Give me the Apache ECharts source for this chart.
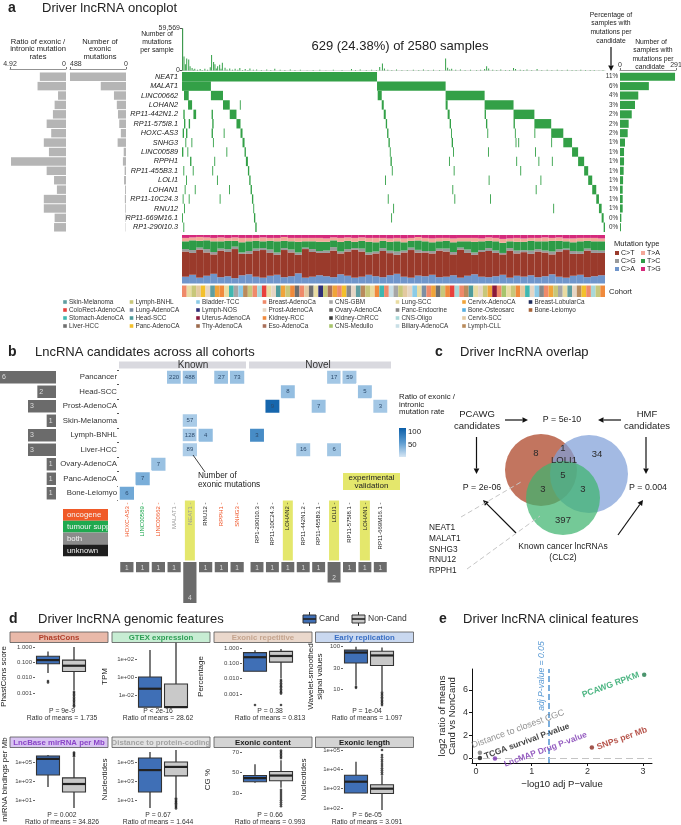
<!DOCTYPE html>
<html>
<head>
<meta charset="UTF-8" />
<title>Driver lncRNA figure</title>
<script src="https://cdn.jsdelivr.net/npm/echarts@6/dist/echarts.min.js"></script>
<style>body{margin:0;background:#fff;}</style>
</head>
<body>
<div id="chart" style="width:681px;height:825px;"></div>
<script>
// ---------- panel a : oncoplot ----------
var genes = ["NEAT1","MALAT1","LINC00662","LOHAN2","RP11-442N1.2","RP11-575I8.1","HOXC-AS3","SNHG3","LINC00589","RPPH1","RP11-455B3.1","LOLI1","LOHAN1","RP11-10C24.3","RNU12","RP11-669M16.1","RP1-290I10.3"];
var exonIntronRatio = [2.3,2.5,0.7,1.0,1.15,1.7,1.3,1.95,1.5,4.83,1.7,1.05,0.8,1.95,1.95,1.0,1.05];
var exonicMutations = [488,220,105,80,70,59,45,73,20,27,12,17,8,10,6,4,3];
var samplesMutated = [286,150,95,78,61,45,40,26,21,21,19,16,14,14,14,7,5];
var samplesPct = ["11%","6%","4%","3%","2%","2%","2%","1%","1%","1%","1%","1%","1%","1%","1%","0%","0%"];

// [gene row, first sample, last sample] in oncoplot sample order (629 samples)
var oncoSegments = [
  [0,0,290],
  [1,0,43],[1,290,392],
  [2,3,10],[2,43,61],[2,392,450],
  [3,9,15],[3,61,71],[3,450,493],
  [4,2,4],[4,17,21],[4,71,81],[4,493,524],
  [5,3,5],[5,10,12],[5,81,87],[5,524,549],
  [6,1,3],[6,6,8],[6,87,90],[6,549,567],
  [7,5,6],[7,14,15],[7,90,93],[7,567,580],
  [8,0,2],[8,8,9],[8,93,95],[8,580,589],
  [9,12,14],[9,95,98],[9,589,598],
  [10,2,3],[10,16,17],[10,98,100],[10,598,604],
  [11,6,7],[11,100,102],[11,604,610],
  [12,4,5],[12,19,20],[12,102,104],[12,610,616],
  [13,1,2],[13,10,11],[13,104,106],[13,616,620],
  [14,3,4],[14,106,107],[14,620,624],
  [15,0,1],[15,107,109],[15,624,627],
  [16,2,3],[16,109,111],[16,627,629],
  [4,44,46],[5,45,47],[6,44,46],[7,46,47],[9,48,49],[10,45,46],[11,52,53],[13,56,57],[6,62,63],[8,66,67],[12,70,71],[3,86,87],
  [2,291,297],[3,297,300],[4,300,303],[5,303,305],[6,305,307],[7,307,309],[8,309,310],[9,310,312],[10,312,313],[14,314,315],
  [11,302,303],[13,306,307],[15,311,312],
  [3,392,395],[4,395,398],[5,398,400],[6,400,401],[7,401,403],[8,403,404],[10,404,405],[13,405,406],[9,397,398],[12,402,403],
  [4,450,452],[5,452,454],[6,454,455],[8,455,456],[11,456,457],[13,458,459],
  [5,493,495],[6,495,496],[7,496,497],[9,497,498],[7,500,501],[10,503,504],
  [6,524,525],[8,525,526],[12,526,527],[9,530,531],[11,533,534],
  [7,549,550],[9,550,551],[14,552,553]
];

// [sample, number of mutations]
var mutationsPerSample = [
  [1,59569],[3,19800],[5,9000],[7,17000],[10,15600],[12,6000],[15,3500],[17,1200],[19,2500],[23,900],[27,2000],[30,800],
  [34,2500],[38,1100],[42,4500],[44,22000],[47,12000],[49,9000],[51,3000],[53,6000],[56,8000],[58,2500],[60,11000],[64,4000],
  [67,1500],[71,3000],[75,900],[79,2500],[83,1200],[86,3500],[90,800],[94,2000],[98,700],[101,3000],[106,900],[111,1500],
  [118,700],[126,1500],[132,600],[138,2500],[146,1200],[153,600],[161,1500],[168,700],[176,1000],[186,500],[195,800],
  [205,1200],[214,500],[225,1000],[238,600],[252,2000],[258,700],[265,1500],[274,600],[282,1000],[289,700],[294,5000],
  [298,10000],[301,3000],[306,900],[312,700],[319,1500],[327,600],[335,800],[344,1000],[352,600],[359,1500],[366,700],
  [374,1000],[383,600],[392,17000],[395,4000],[398,1500],[401,2500],[407,900],[414,1500],[421,700],[429,1000],[438,600],
  [444,900],[450,2000],[453,6000],[456,3000],[462,900],[468,700],[474,1500],[481,800],[487,600],[493,3500],[496,2000],
  [503,900],[508,700],[513,1500],[520,800],[528,2000],[535,700],[543,1200],[550,600],[558,1000],[565,700],[573,1200],
  [580,600],[586,800],[593,1000],[600,600],[607,700],[613,800],[620,500],[626,600]
];

var mutTypes = ["C>T","C>G","C>A","T>A","T>C","T>G"];
var spectrumCA = [14,18,12,16,20,13,15,11,17,19,14,12,16,18,13,15,21,12,14,17,15,13,19,16,12,14,18,15,13,17,20,14,12,16,15,18,13,14,17,12,16,19,14,13,15,18,12,16,14,17,13,15,19,14,12,16,18,13,15,17];
var spectrumCT = [52,45,58,48,40,55,50,60,44,42,53,57,47,41,56,49,38,59,51,46,48,55,43,50,58,52,41,47,54,45,39,50,57,46,49,44,55,52,43,58,47,40,51,54,48,42,56,46,50,44,53,49,41,52,57,45,43,55,48,46];
var spectrumCG = [5,6,4,7,5,4,6,5,3,6,5,4,7,5,4,6,5,3,6,4,5,7,4,5,3,6,5,4,6,5,7,4,5,6,3,5,4,6,5,4,7,5,4,6,5,3,5,6,4,7,5,4,6,5,3,6,5,4,6,5];
var spectrumTC = [16,20,14,18,22,15,17,12,21,20,16,14,18,23,15,17,22,13,16,19,18,14,20,17,13,16,22,19,15,18,21,17,14,19,20,18,15,16,20,13,17,22,18,15,19,21,14,18,17,20,16,19,22,17,15,18,21,16,18,19];
var spectrumTA = [7,6,8,6,7,8,6,7,9,7,6,8,6,7,8,7,8,7,7,8,7,6,8,7,8,7,8,9,6,7,7,8,6,7,7,8,7,6,8,7,7,8,6,7,7,8,6,8,7,6,7,8,6,7,6,8,7,6,7,6];
var spectrumTG = [6,5,4,5,6,5,6,5,6,6,6,5,6,6,4,6,6,6,6,6,7,5,6,5,6,5,6,6,6,7,6,7,6,4,6,7,6,6,7,6,6,6,7,5,6,8,7,6,7,6,6,5,6,5,7,7,6,6,6,7];

var cohortNames = ["Skin-Melanoma","ColoRect-AdenoCA","Stomach-AdenoCA","Liver-HCC","Lymph-BNHL","Lung-AdenoCA","Head-SCC","Panc-AdenoCA","Bladder-TCC","Lymph-NOS","Uterus-AdenoCA","Thy-AdenoCA","Breast-AdenoCa","Prost-AdenoCA","Kidney-RCC","Eso-AdenoCa","CNS-GBM","Ovary-AdenoCA","Kidney-ChRCC","CNS-Medullo","Lung-SCC","Panc-Endocrine","CNS-Oligo","Biliary-AdenoCA","Cervix-AdenoCA","Bone-Osteosarc","Cervix-SCC","Lymph-CLL","Breast-LobularCa","Bone-Leiomyo"];
var cohortStrip = [12,20,4,26,7,13,0,24,14,20,2,16,8,27,4,12,22,1,20,13,6,24,4,14,17,12,26,3,20,9,4,15,24,12,7,21,13,0,27,4,20,14,2,12,23,16,4,26,13,8,20,5,12,24,17,4,14,1,22,12,27,6,20,13,4,24,10,12,19,20,4,14,26,2,13,8,21,12,24,4,16,20,0,13,27,7,12,22,4,14];

// ---------- panel b ----------
var bCohorts = ["Pancancer","Head-SCC","Prost-AdenoCA","Skin-Melanoma","Lymph-BNHL","Liver-HCC","Ovary-AdenoCA","Panc-AdenoCA","Bone-Leiomyo"];
var knownGenes = ["HOXC-AS3","LINC00589","LINC00662","MALAT1","NEAT1","RNU12","RPPH1","SNHG3"];
var knownRoles = ["oncogene","tumour supp","oncogene","both","both","unknown","oncogene","oncogene"];
var novelGenes = ["RP1-290I10.3","RP11-10C24.3","LOHAN2","RP11-442N1.2","RP11-455B3.1","LOLI1","RP11-575I8.1","LOHAN1","RP11-669M16.1"];
var validatedGenes = ["NEAT1","LOHAN2","LOLI1","LOHAN1"];
// [gene, cohort, exonic mutations, exonic/intronic ratio]
var candidateCells = [
  ["MALAT1","Pancancer",220,28],["NEAT1","Pancancer",488,28],["RPPH1","Pancancer",27,30],["SNHG3","Pancancer",73,30],
  ["LOLI1","Pancancer",17,25],["RP11-575I8.1","Pancancer",59,25],
  ["LOHAN2","Head-SCC",8,32],["LOHAN1","Head-SCC",5,30],
  ["RP11-10C24.3","Prost-AdenoCA",9,112],["RP11-455B3.1","Prost-AdenoCA",7,30],["RP11-669M16.1","Prost-AdenoCA",3,25],
  ["NEAT1","Skin-Melanoma",57,22],
  ["NEAT1","Lymph-BNHL",128,24],["RNU12","Lymph-BNHL",4,34],["RP1-290I10.3","Lymph-BNHL",3,75],
  ["NEAT1","Liver-HCC",89,20],["RP11-442N1.2","Liver-HCC",16,25],["LOLI1","Liver-HCC",6,26],
  ["LINC00662","Ovary-AdenoCA",7,30],
  ["LINC00589","Panc-AdenoCA",7,45],
  ["HOXC-AS3","Bone-Leiomyo",6,50]
];
var cohortCandidates = [6,2,3,1,3,3,1,1,1];
var knownCohortCounts = [1,1,1,1,4,1,1,1];
var novelCohortCounts = [1,1,1,1,1,2,1,1,1];

// ---------- panel c ----------
var vennCounts = [8,1,34,5,3,3,397]; // PCAWG only, PCAWG&HMF, HMF only, all, PCAWG&CLC2, HMF&CLC2, CLC2 only
var vennShared = ["NEAT1","MALAT1","SNHG3","RNU12","RPPH1"];

// ---------- panel d ----------
var featureNames = ["PhastCons","GTEX expression","Exonic repetitive","Early replication","LncBase mirRNA per Mb","Distance to protein-coding","Exonic content","Exonic length"];
var featureP = ["P = 9e-9","P < 2e-16","P = 0.38","P = 1e-04","P = 0.002","P = 0.67","P = 0.66","P = 6e-05"];
var featureRatio = ["1.735","28.62","0.813","1.097","34.826","1.644","0.993","3.091"];
var featureCandBox = [
  [0.02,0.08,0.14,0.25,0.5],[0.00045,0.00045,0.05,1.0,1000],[0.03,0.03,0.25,0.5,0.7],[12,40,70,80,95],
  [234,4300,210000,430000,550000],[1.4,70,14000,260000,1100000],[40,41,44.5,47,58],[600,600,2300,5000,25000]
];
var featureNonBox = [
  [0.0015,0.025,0.06,0.14,1.0],[0.00042,0.00042,0.00045,0.17,10000],[0.01,0.12,0.3,0.6,0.85],[9,35,60,75,92],
  [1.4,70,480,2100,300000],[20,3400,30000,100000,1800000],[35,42,47,51,62],[80,560,1000,1600,4500]
];
var featureCandOut = [[0.006,0.0048],[],[0.00019],[11.2,10.6],[],[],[],[]];
var featureNonOut = [
  [0.0012,0.001,0.0008,0.00065,0.0005,0.0004,0.00032,0.00026,0.0002,0.00016,0.00013],
  [],
  [0.008,0.0065,0.005,0.004,0.0032,0.0026,0.002,0.0016,0.0013,0.00105,0.00019],
  [8.3,7.6,7,6.4,5.9,5.4,5,4.6,4.2],
  [400000,550000,750000,1000000],
  [15,11,8,6,4.5,3.3,2.5,1.8,1.3],
  [64,65.5,67,68.5,70,71.5,33,31,29,27,25,23,21,19,17],
  [5500,7000,9000,11500,15000,19000,25000,32000,42000,55000,100000]
];

// ---------- panel e ----------
var clinicalNames = ["PCAWG RPKM","SNPs per Mb","LncMAP Drug P-value","TCGA survival P-value","Distance to closest CGC"];
var clinicalNegLogP = [3.02,2.08,0.34,0.07,0.07];
var clinicalLog2Ratio = [7.35,0.92,-0.05,0.0,0.47];

// ================= build =================
var FONT = "'Liberation Sans', Arial, Helvetica, sans-serif";
var GREEN = "#33a047";
var grids = [], xAxes = [], yAxes = [], series = [], gfx = [];

function addGrid(l, t, w, h) {
  grids.push({left: l, top: t, width: w, height: h, containLabel: false, outerBoundsMode: "none"});
  return grids.length - 1;
}
function txt(x, y, s, o) {
  o = o || {};
  gfx.push({type: "text", x: x, y: y, rotation: o.rot || 0, z: 20, silent: true,
    style: {text: s, fontSize: o.size || 8, fontFamily: FONT, fill: o.color || "#222",
      align: o.align || "center", textAlign: o.align || "center", verticalAlign: "middle", textVerticalAlign: "middle",
      fontWeight: o.weight || "normal", fontStyle: o.italic ? "italic" : "normal", lineHeight: o.lh || undefined}});
}
function box(x, y, w, h, fill, o) {
  o = o || {};
  gfx.push({type: "rect", shape: {x: x, y: y, width: w, height: h}, z: o.z || 5, silent: true,
    style: {fill: fill, stroke: o.stroke || null, lineWidth: o.lw || 0, opacity: o.op == null ? 1 : o.op}});
}
function seg(x1, y1, x2, y2, o) {
  o = o || {};
  gfx.push({type: "line", shape: {x1: x1, y1: y1, x2: x2, y2: y2}, z: o.z || 15, silent: true,
    style: {stroke: o.color || "#111", lineWidth: o.lw || 1, lineDash: o.dash || null}});
}
function arrow(x1, y1, x2, y2) {
  var a = Math.atan2(y2 - y1, x2 - x1), L = 5.5, W = 2.8;
  var bx = x2 - L * Math.cos(a), by = y2 - L * Math.sin(a);
  seg(x1, y1, bx, by, {lw: 1.2});
  gfx.push({type: "polygon", z: 15, silent: true,
    shape: {points: [[x2, y2], [bx - W * Math.sin(a), by + W * Math.cos(a)], [bx + W * Math.sin(a), by - W * Math.cos(a)]]},
    style: {fill: "#111"}});
}
function hidden(gi, extra) {
  var ax = {gridIndex: gi, show: false};
  for (var k in extra) ax[k] = extra[k];
  return ax;
}

// ----- panel a titles -----
txt(8, 8, "a", {size: 14, weight: "bold", align: "left"});
txt(42, 8, "Driver lncRNA oncoplot", {size: 13, align: "left"});

txt(38, 41.5, "Ratio of exonic /", {size: 7.6});
txt(38, 49, "intronic mutation", {size: 7.6});
txt(38, 56.5, "rates", {size: 7.6});
txt(100, 41.5, "Number of", {size: 7.6});
txt(100, 49, "exonic", {size: 7.6});
txt(100, 56.5, "mutations", {size: 7.6});
txt(157, 34, "Number of", {size: 6.8});
txt(157, 42, "mutations", {size: 6.8});
txt(157, 50, "per sample", {size: 6.8});
txt(400, 46.5, "629 (24.38%) of 2580 samples", {size: 13});
txt(611, 15, "Percentage of", {size: 6.8});
txt(611, 23.5, "samples with", {size: 6.8});
txt(611, 32, "mutations per", {size: 6.8});
txt(611, 41, "candidate", {size: 6.8});
txt(651, 42, "Number of", {size: 6.8});
txt(653, 50.5, "samples with", {size: 6.8});
txt(653, 59, "mutations per", {size: 6.8});
txt(650, 67, "candidate", {size: 6.8});
arrow(611, 47, 611, 71);

// ratio bars
var gRatio = addGrid(10, 72, 56, 160);
xAxes.push({type: "value", gridIndex: gRatio, min: 0, max: 4.92, interval: 4.92, inverse: true, position: "top", offset: 3,
  axisLine: {show: true, lineStyle: {color: "#777", width: 0.8}}, axisTick: {show: true, length: 2, lineStyle: {color: "#777"}},
  axisLabel: {fontSize: 7, color: "#333", margin: 1, alignMinLabel: "right"}, splitLine: {show: false}});
yAxes.push(hidden(gRatio, {type: "category", data: genes, inverse: true}));
series.push({type: "bar", xAxisIndex: gRatio, yAxisIndex: gRatio, data: exonIntronRatio, barCategoryGap: "10%",
  itemStyle: {color: "#b5b5b5"}, silent: true});

// exonic count bars
var gExon = addGrid(70, 72, 56, 160);
xAxes.push({type: "value", gridIndex: gExon, min: 0, max: 488, interval: 488, inverse: true, position: "top", offset: 3,
  axisLine: {show: true, lineStyle: {color: "#777", width: 0.8}}, axisTick: {show: true, length: 2, lineStyle: {color: "#777"}},
  axisLabel: {fontSize: 7, color: "#333", margin: 1, alignMaxLabel: "left"}, splitLine: {show: false}});
yAxes.push(hidden(gExon, {type: "category", data: genes, inverse: true}));
series.push({type: "bar", xAxisIndex: gExon, yAxisIndex: gExon, data: exonicMutations, barCategoryGap: "10%",
  itemStyle: {color: "#b5b5b5"}, silent: true});

// oncoplot matrix
var gOnco = addGrid(182, 72, 423, 160);
xAxes.push(hidden(gOnco, {type: "value", min: 0, max: 629}));
yAxes.push({type: "category", gridIndex: gOnco, data: genes, inverse: true,
  axisLine: {show: false}, axisTick: {show: false},
  axisLabel: {interval: 0, fontSize: 7.3, fontStyle: "italic", color: "#222", margin: 4}});
series.push({type: "custom", xAxisIndex: gOnco, yAxisIndex: gOnco, data: oncoSegments, silent: true,
  encode: {x: [1, 2], y: 0},
  renderItem: function (params, api) {
    var row = api.value(0);
    var p0 = api.coord([api.value(1), row]), p1 = api.coord([api.value(2), row]);
    var h = api.size([0, 1])[1];
    return {type: "rect", shape: {x: p0[0], y: p0[1] - h / 2, width: Math.max(p1[0] - p0[0], 0.9), height: h},
      style: {fill: GREEN}};
  }});

// mutations per sample
var gTop = addGrid(182, 28.5, 423, 42);
xAxes.push({type: "value", gridIndex: gTop, min: 0, max: 629, axisLine: {show: true, lineStyle: {color: "#ccc", width: 0.6}},
  axisTick: {show: false}, axisLabel: {show: false}, splitLine: {show: false}});
yAxes.push({type: "value", gridIndex: gTop, min: 0, max: 59569, interval: 59569,
  axisLine: {show: true, lineStyle: {color: "#555", width: 0.8}}, axisTick: {show: true, length: 2, lineStyle: {color: "#555"}},
  axisLabel: {fontSize: 7, color: "#333", margin: 2}, splitLine: {show: false}});
series.push({type: "custom", xAxisIndex: gTop, yAxisIndex: gTop, data: mutationsPerSample, silent: true,
  renderItem: function (params, api) {
    var p0 = api.coord([api.value(0), 0]), p1 = api.coord([api.value(0), api.value(1)]);
    return {type: "rect", shape: {x: p0[0] - 0.5, y: p1[1], width: 1, height: p0[1] - p1[1]}, style: {fill: GREEN}};
  }});

// samples per candidate
var gRight = addGrid(620, 72, 56, 160);
xAxes.push({type: "value", gridIndex: gRight, min: 0, max: 291, interval: 291, position: "top", offset: 2,
  axisLine: {show: true, lineStyle: {color: "#777", width: 0.8}}, axisTick: {show: true, length: 2, lineStyle: {color: "#777"}},
  axisLabel: {fontSize: 7, color: "#333", margin: 1}, splitLine: {show: false}});
yAxes.push({type: "category", gridIndex: gRight, data: genes, inverse: true, axisLine: {show: false}, axisTick: {show: false},
  axisLabel: {interval: 0, fontSize: 6.3, color: "#333", margin: 2, formatter: function (v, i) { return samplesPct[i]; }}});
series.push({type: "bar", xAxisIndex: gRight, yAxisIndex: gRight, data: samplesMutated, barCategoryGap: "14%",
  itemStyle: {color: GREEN}, silent: true});

// mutation spectrum
var mutColor = {"C>T": "#9a3a2b", "C>G": "#9a9a9a", "C>A": "#6f95cb", "T>A": "#f3a899", "T>C": "#2e9b47", "T>G": "#d5297b"};
var gSpec = addGrid(182, 235, 423, 48.5);
var specIdx = spectrumCA.map(function (v, i) { return i; });
xAxes.push(hidden(gSpec, {type: "category", data: specIdx}));
yAxes.push(hidden(gSpec, {type: "value", min: 0, max: 100}));
var specStack = [["C>A", spectrumCA], ["C>T", spectrumCT], ["C>G", spectrumCG], ["T>C", spectrumTC], ["T>A", spectrumTA], ["T>G", spectrumTG]];
specStack.forEach(function (s) {
  series.push({type: "bar", name: s[0], xAxisIndex: gSpec, yAxisIndex: gSpec, stack: "spec", barWidth: "100%", silent: true,
    itemStyle: {color: mutColor[s[0]]},
    data: s[1].map(function (v, i) {
      var tot = spectrumCA[i] + spectrumCT[i] + spectrumCG[i] + spectrumTC[i] + spectrumTA[i] + spectrumTG[i];
      return v / tot * 100;
    })});
});
txt(614, 244, "Mutation type", {size: 7.6, align: "left"});
[["C>T", "T>A"], ["C>G", "T>C"], ["C>A", "T>G"]].forEach(function (pair, r) {
  pair.forEach(function (m, c) {
    var x = 615 + c * 26, y = 253 + r * 8;
    box(x, y - 2, 4, 4, mutColor[m]);
    txt(x + 6, y, m, {size: 7, align: "left"});
  });
});

// cohort strip
var cohortColors = ["#5f9ea0","#e8413c","#3fb7b0","#707070","#c8c77a","#7d8fa3","#4e9c9c","#f3c02c","#8ccbe6","#2f2f78","#8b1a3a","#9c6b4e","#ef8a6a","#e6d6c5","#f08a3c","#a9705a","#a6a6a6","#6e6e6e","#3c3c3c","#a7c46c","#e9dca2","#888888","#a9d8d8","#c9dfe6","#f0a43a","#5aafe0","#e3c9a1","#b98b5c","#1f2d5c","#a8643a"];
var gCoh = addGrid(182, 285.5, 423, 11.5);
xAxes.push(hidden(gCoh, {type: "category", data: cohortStrip.map(function (v, i) { return i; })}));
yAxes.push(hidden(gCoh, {type: "value", min: 0, max: 1}));
series.push({type: "bar", xAxisIndex: gCoh, yAxisIndex: gCoh, barWidth: "100%", silent: true,
  data: cohortStrip.map(function (c) { return {value: 1, itemStyle: {color: cohortColors[c]}}; })});
txt(609, 292, "Cohort", {size: 7.6, align: "left"});
cohortNames.forEach(function (n, i) {
  var col = Math.floor(i / 4), row = i % 4;
  var x = 65 + col * 66.5, y = 302 + row * 8;
  box(x - 1.8, y - 1.8, 3.6, 3.6, cohortColors[i]);
  txt(x + 4, y, n, {size: 6.4, align: "left", color: "#333"});
});

// ----- panel b -----
txt(8, 352, "b", {size: 14, weight: "bold", align: "left"});
txt(35, 352, "LncRNA candidates across all cohorts", {size: 13, align: "left"});
box(119, 361.5, 127, 7, "#d9d9df");
box(249, 361.5, 142, 7, "#d9d9df");
txt(193, 365, "Known", {size: 10, color: "#333"});
txt(318, 365, "Novel", {size: 10, color: "#333"});

var gLeftB = addGrid(0, 370, 56, 130.5);
xAxes.push(hidden(gLeftB, {type: "value", min: 0, max: 6, inverse: true}));
yAxes.push(hidden(gLeftB, {type: "category", data: bCohorts, inverse: true}));
series.push({type: "bar", xAxisIndex: gLeftB, yAxisIndex: gLeftB, data: cohortCandidates, barCategoryGap: "14%", silent: true,
  itemStyle: {color: "#6b6b6b"}, label: {show: true, position: "insideLeft", distance: 2, fontSize: 7, color: "#ddd"}});

var roleColor = {"oncogene": "#ef5326", "tumour supp": "#18a64b", "both": "#9a9a9a", "unknown": "#222", "novel": "#222"};
function colRich() {
  var r = {};
  Object.keys(roleColor).forEach(function (k, i) {
    r["s" + i] = {color: roleColor[k], fontSize: 6, width: 56, align: "right", padding: [2, 2, 2, 2]};
    r["h" + i] = {color: roleColor[k], fontSize: 6, width: 56, align: "right", padding: [2, 2, 2, 2], backgroundColor: "#e4e76c"};
  });
  return r;
}
var roleKeys = Object.keys(roleColor);
function colLabel(role) {
  return function (v) {
    var k = roleKeys.indexOf(role(v));
    return "{" + (validatedGenes.indexOf(v) >= 0 ? "h" : "s") + k + "|" + v + " -}";
  };
}
var heatIdx = [];
[[knownGenes, 119, 126, function (v) { return knownRoles[knownGenes.indexOf(v)]; }, knownCohortCounts, true],
 [novelGenes, 249.3, 138.7, function () { return "novel"; }, novelCohortCounts, false]].forEach(function (blk) {
  var gl = blk[0];
  var g = addGrid(blk[1], 370, blk[2], 130.5);
  xAxes.push({type: "category", gridIndex: g, data: gl, position: "bottom", axisLine: {show: false},
    axisTick: {show: false}, splitLine: {show: false},
    axisLabel: {interval: 0, rotate: 90, margin: 0, formatter: colLabel(blk[3]), rich: colRich()}});
  yAxes.push({type: "category", gridIndex: g, data: bCohorts, inverse: true, show: blk[5],
    axisLine: {show: false}, axisTick: {show: true, length: 2, lineStyle: {color: "#555"}},
    axisLabel: {interval: 0, fontSize: 7.8, color: "#333", margin: 2}});
  var cells = candidateCells.filter(function (c) { return gl.indexOf(c[0]) >= 0; }).map(function (c) {
    return [gl.indexOf(c[0]), bCohorts.indexOf(c[1]), c[3], c[2]];
  });
  heatIdx.push(series.length);
  series.push({type: "heatmap", xAxisIndex: g, yAxisIndex: g, data: cells, silent: true,
    itemStyle: {borderColor: "#fff", borderWidth: 2},
    label: {show: true, formatter: function (p) { return p.value[3]; }, fontSize: 6, color: "#2d4c6e"}});
  var gc = addGrid(blk[1], 562, blk[2], 41);
  xAxes.push(hidden(gc, {type: "category", data: gl}));
  yAxes.push(hidden(gc, {type: "value", min: 0, max: 4, inverse: true}));
  series.push({type: "bar", xAxisIndex: gc, yAxisIndex: gc, data: blk[4], barCategoryGap: "16%", silent: true,
    itemStyle: {color: "#6b6b6b"}, label: {show: true, position: "insideBottom", distance: 1, fontSize: 6.5, color: "#ddd"}});
});

// colour bar legend
txt(399, 397, "Ratio of exonic /", {size: 7.8, align: "left"});
txt(399, 404.5, "intronic", {size: 7.8, align: "left"});
txt(399, 412, "mutation rate", {size: 7.8, align: "left"});
gfx.push({type: "rect", shape: {x: 399, y: 428, width: 7, height: 29}, z: 5, silent: true,
  style: {fill: {type: "linear", x: 0, y: 0, x2: 0, y2: 1, colorStops: [{offset: 0, color: "#0b5ea8"}, {offset: 0.5, color: "#5b9bd0"}, {offset: 1, color: "#d6e6f4"}]}}});
txt(408, 432, "100", {size: 7.8, align: "left"});
txt(408, 445, "50", {size: 7.8, align: "left"});

// function legend
[["oncogene", "#f05a28"], ["tumour supp", "#1fa94f"], ["both", "#8b8b8b"], ["unknown", "#1e1e1e"]].forEach(function (r, i) {
  box(63, 509 + i * 11.8, 45, 11.8, r[1]);
  txt(67, 515 + i * 11.8, r[0], {size: 7.8, align: "left", color: "#f4f4f4"});
});
seg(193, 455, 205, 472, {lw: 0.8});
txt(198, 476, "Number of", {size: 8.3, align: "left"});
txt(198, 484.5, "exonic mutations", {size: 8.3, align: "left"});
box(343, 473, 57, 17, "#e4e76c");
txt(371.5, 477.5, "experimental", {size: 8});
txt(371.5, 485.5, "validation", {size: 8});

// ----- panel c -----
txt(435, 352, "c", {size: 14, weight: "bold", align: "left"});
txt(460, 352, "Driver lncRNA overlap", {size: 13, align: "left"});
gfx.push({type: "circle", shape: {cx: 541, cy: 470, r: 36}, z: 6, silent: true, style: {fill: "#b5573c", opacity: 0.82}});
gfx.push({type: "circle", shape: {cx: 589, cy: 474, r: 39}, z: 7, silent: true, style: {fill: "#7f9fd8", opacity: 0.72}});
gfx.push({type: "circle", shape: {cx: 563, cy: 498, r: 37}, z: 8, silent: true, style: {fill: "#3fb46f", opacity: 0.72}});
var vennPos = [[536, 453], [563, 448], [597, 454], [563, 475], [543, 489], [583, 489], [563, 520]];
vennCounts.forEach(function (v, i) { txt(vennPos[i][0], vennPos[i][1], String(v), {size: 9.5, color: "#2a2a2a"}); });
txt(564, 460, "LOLI1", {size: 9.5, color: "#2a2a2a"});
txt(477, 414, "PCAWG", {size: 9.5});
txt(477, 426, "candidates", {size: 9.5});
txt(647, 414, "HMF", {size: 9.5});
txt(647, 426, "candidates", {size: 9.5});
txt(562, 420, "P = 5e-10", {size: 8.8});
txt(482, 488, "P = 2e-06", {size: 8.8});
txt(648, 488, "P = 0.004", {size: 8.8});
arrow(505, 420, 528, 420);
arrow(621, 420, 598, 420);
arrow(476.5, 437, 476.5, 474);
arrow(646, 437, 646, 474);
arrow(516, 533, 483, 500);
arrow(618, 535, 643, 500);
txt(563, 547, "Known cancer lncRNAs", {size: 8.5});
txt(563, 558, "(CLC2)", {size: 8.5});
vennShared.forEach(function (g, i) { txt(429, 528 + i * 10.7, g, {size: 8.3, align: "left"}); });
seg(461, 517, 521, 482, {color: "#c6c6c6", dash: [5, 3], lw: 1});
seg(467, 569, 540, 516, {color: "#c6c6c6", dash: [5, 3], lw: 1});

// ----- panel d -----
txt(9, 619, "d", {size: 14, weight: "bold", align: "left"});
txt(38, 619, "Driver lncRNA genomic features", {size: 13, align: "left"});
[[303, "#3f6fb6", "Cand"], [352, "#c9c9c9", "Non-Cand"]].forEach(function (l) {
  seg(l[0] + 6.5, 612, l[0] + 6.5, 626, {color: "#333", lw: 1});
  box(l[0], 615, 13, 8, l[1], {stroke: "#333", lw: 1, z: 16});
  seg(l[0], 619, l[0] + 13, 619, {color: "#222", lw: 1.6, z: 17});
  txt(l[0] + 16, 619, l[2], {size: 8.5, align: "left", color: "#333"});
});

var stripFill = ["#e9b9a9","#c7edd3","#ead8cc","#c9d8f0","#d9c4f2","#e3e3e3","#d4d4d4","#d4d4d4"];
var stripText = ["#b0402c","#2e9e55","#c4a48e","#3a6fc4","#8a44c8","#a3a3a3","#1a1a1a","#1a1a1a"];
var panelLeft = [35, 137, 242, 343];
var panelStripX = [10, 112, 214, 315.5];
var panelTextX = [62, 158, 270, 367];
var axisSpec = [
  {type: "log", min: 1.05e-4, max: 1.35, ticks: [0.001, 0.01, 0.1, 1], fmt: "fix3", name: "PhastCons score", gap: 26.5},
  {type: "log", min: 3.6e-4, max: 3600, ticks: [0.01, 1, 100], fmt: "sci", name: "TPM", gap: 27.5},
  {type: "log", min: 1.2e-4, max: 1.57, ticks: [0.001, 0.01, 0.1, 1], fmt: "fix3", name: "Percentage", gap: 37},
  {type: "log", min: 3.6, max: 105, ticks: [10, 30, 100], fmt: "int", name: "Wavelet-smoothed\nsignal values", gap: 19},
  {type: "log", min: 0.885, max: 2.3e6, ticks: [10, 1000, 100000], fmt: "sci", name: "miRNA bindings per Mb", gap: 25.5},
  {type: "log", min: 0.885, max: 2.3e6, ticks: [10, 1000, 100000], fmt: "sci", name: "Nucleotides", gap: 27.5},
  {type: "value", min: 13.4, max: 72.9, ticks: [30, 50, 70], fmt: "int", name: "CG %", gap: 30},
  {type: "log", min: 79, max: 1.13e5, ticks: [100, 1000, 10000, 100000], fmt: "sci", name: "Nucleotides", gap: 34.5}
];
function fmtTick(kind) {
  return function (v) {
    if (kind === "fix3") return v.toFixed(3);
    if (kind === "int") return String(Math.round(v));
    var e = Math.round(Math.log(v) / Math.LN10);
    var a = Math.abs(e);
    return "1e" + (e < 0 ? "-" : "+") + (a < 10 ? "0" : "") + a;
  };
}
function renderBox(params, api) {
  var c = api.value(0);
  var pMin = api.coord([c, api.value(1)]), pQ1 = api.coord([c, api.value(2)]), pMed = api.coord([c, api.value(3)]);
  var pQ3 = api.coord([c, api.value(4)]), pMax = api.coord([c, api.value(5)]);
  var w = 23, x = pMin[0];
  var fill = c === 0 ? "#3f6fb6" : "#c9c9c9";
  return {type: "group", children: [
    {type: "line", shape: {x1: x, y1: pMax[1], x2: x, y2: pQ3[1]}, style: {stroke: "#333", lineWidth: 1.3}},
    {type: "line", shape: {x1: x, y1: pQ1[1], x2: x, y2: pMin[1]}, style: {stroke: "#333", lineWidth: 1.3}},
    {type: "rect", shape: {x: x - w / 2, y: pQ3[1], width: w, height: Math.max(pQ1[1] - pQ3[1], 1)},
      style: {fill: fill, stroke: "#333", lineWidth: 1.1}},
    {type: "line", shape: {x1: x - w / 2, y1: pMed[1], x2: x + w / 2, y2: pMed[1]}, style: {stroke: "#222", lineWidth: 2.2}}
  ]};
}
featureNames.forEach(function (name, k) {
  var col = k % 4, row = Math.floor(k / 4);
  var top = row === 0 ? 645 : 749, h = row === 0 ? 63 : 61;
  var stripY = row === 0 ? 632 : 737;
  gfx.push({type: "rect", shape: {x: panelStripX[col], y: stripY, width: 98, height: 10.5}, z: 5, silent: true,
    style: {fill: stripFill[k], stroke: "#555", lineWidth: 0.8}});
  txt(panelStripX[col] + 49, stripY + 5.5, name, {size: 7.8, weight: "bold", color: stripText[k]});
  var spec = axisSpec[k];
  var g = addGrid(panelLeft[col], top, 52, h);
  xAxes.push(hidden(g, {type: "category", data: ["Cand", "Non-Cand"]}));
  yAxes.push({type: spec.type, gridIndex: g, min: spec.min, max: spec.max, logBase: 10,
    axisLine: {show: false}, splitLine: {show: false},
    axisTick: {show: true, length: 2, customValues: spec.ticks, lineStyle: {color: "#666"}},
    axisLabel: {customValues: spec.ticks, formatter: fmtTick(spec.fmt), fontSize: 6, color: "#444", margin: 3},
    name: spec.name, nameLocation: "middle", nameGap: spec.gap, nameMoveOverlap: false,
    nameTextStyle: {fontSize: 8, color: "#222", lineHeight: 9}});
  series.push({type: "custom", xAxisIndex: g, yAxisIndex: g, silent: true, renderItem: renderBox,
    data: [[0].concat(featureCandBox[k]), [1].concat(featureNonBox[k])]});
  var outs = featureCandOut[k].map(function (v) { return [0, v]; }).concat(featureNonOut[k].map(function (v) { return [1, v]; }));
  series.push({type: "scatter", xAxisIndex: g, yAxisIndex: g, data: outs, symbolSize: 2.6, silent: true,
    itemStyle: {color: "#222"}});
  var ty = row === 0 ? 711.5 : 815;
  txt(panelTextX[col], ty, featureP[k], {size: 6.8, color: "#333"});
  txt(panelTextX[col], ty + 7, "Ratio of means = " + featureRatio[k], {size: 6.8, color: "#333"});
});

// ----- panel e -----
txt(439, 619, "e", {size: 14, weight: "bold", align: "left"});
txt(463, 619, "Driver lncRNA clinical features", {size: 13, align: "left"});
var gE = addGrid(472, 669, 180, 94);
xAxes.push({type: "value", gridIndex: gE, min: -0.072, max: 3.16,
  axisLine: {show: true, onZero: false, lineStyle: {color: "#111", width: 1}},
  axisTick: {show: true, length: 3, customValues: [0, 1, 2, 3], lineStyle: {color: "#111"}},
  axisLabel: {customValues: [0, 1, 2, 3], fontSize: 9, color: "#333", margin: 4}, splitLine: {show: false},
  name: "\u2212log10 adj P\u2212value", nameLocation: "middle", nameGap: 16, nameTextStyle: {fontSize: 9.5, color: "#222"}});
yAxes.push({type: "value", gridIndex: gE, min: -0.44, max: 7.85,
  axisLine: {show: true, onZero: false, lineStyle: {color: "#111", width: 1}},
  axisTick: {show: true, length: 3, customValues: [0, 2, 4, 6], lineStyle: {color: "#111"}},
  axisLabel: {customValues: [0, 2, 4, 6], fontSize: 9, color: "#333", margin: 4}, splitLine: {show: false},
  name: "log2 ratio of means\nCand vs NonCand", nameLocation: "middle", nameGap: 15, nameMoveOverlap: false,
  nameTextStyle: {fontSize: 9.5, color: "#222", lineHeight: 10}});
var clinStyle = [
  {color: "#1fa363", pos: "left", w: "bold", size: 8.6, dot: "#1f7a4a", off: [0, 0]},
  {color: "#a52a1f", pos: "right", w: "bold", size: 8.6, dot: "#8b2a20", off: [0, 0]},
  {color: "#7a35b0", pos: "right", w: "bold", size: 8.4, dot: "#7a35b0", off: [2, 7]},
  {color: "#111", pos: "right", w: "bold", size: 8.4, dot: "#111", off: [0, -1.5]},
  {color: "#777", pos: "right", w: "normal", size: 9, dot: "#777", off: [-10, -11]}
];
series.push({type: "scatter", xAxisIndex: gE, yAxisIndex: gE, symbolSize: 4.5, silent: true, z: 5,
  data: clinicalNames.map(function (n, i) {
    var s = clinStyle[i];
    return {value: [clinicalNegLogP[i], clinicalLog2Ratio[i]], name: n, itemStyle: {color: s.dot},
      label: {show: true, formatter: n, position: s.pos, distance: 3, rotate: 20, offset: s.off, color: s.color,
        fontWeight: s.w, fontSize: s.size, align: s.pos === "left" ? "right" : "left"}};
  }),
  markLine: {silent: true, symbol: "none", label: {show: false}, animation: false,
    data: [
      {xAxis: 1.301, lineStyle: {color: "#5b9bd5", type: [6, 3], width: 1.6}},
      {yAxis: 0, lineStyle: {color: "#c4c4c4", type: [7, 4], width: 1.2}}
    ]}});
txt(542, 676, "adj P-value = 0.05", {size: 8.6, color: "#5b9bd5", rot: Math.PI / 2, italic: true});

var myChart = echarts.init(document.getElementById("chart"));
myChart.setOption({
  animation: false,
  backgroundColor: "#fff",
  textStyle: {fontFamily: FONT},
  grid: grids,
  xAxis: xAxes,
  yAxis: yAxes,
  visualMap: [{type: "continuous", show: false, min: 0, max: 120, dimension: 2, seriesIndex: heatIdx,
    inRange: {color: ["#d6e6f4", "#5b9bd0", "#0b5ea8"]}}],
  series: series,
  graphic: {elements: gfx}
});
</script>
</body>
</html>
